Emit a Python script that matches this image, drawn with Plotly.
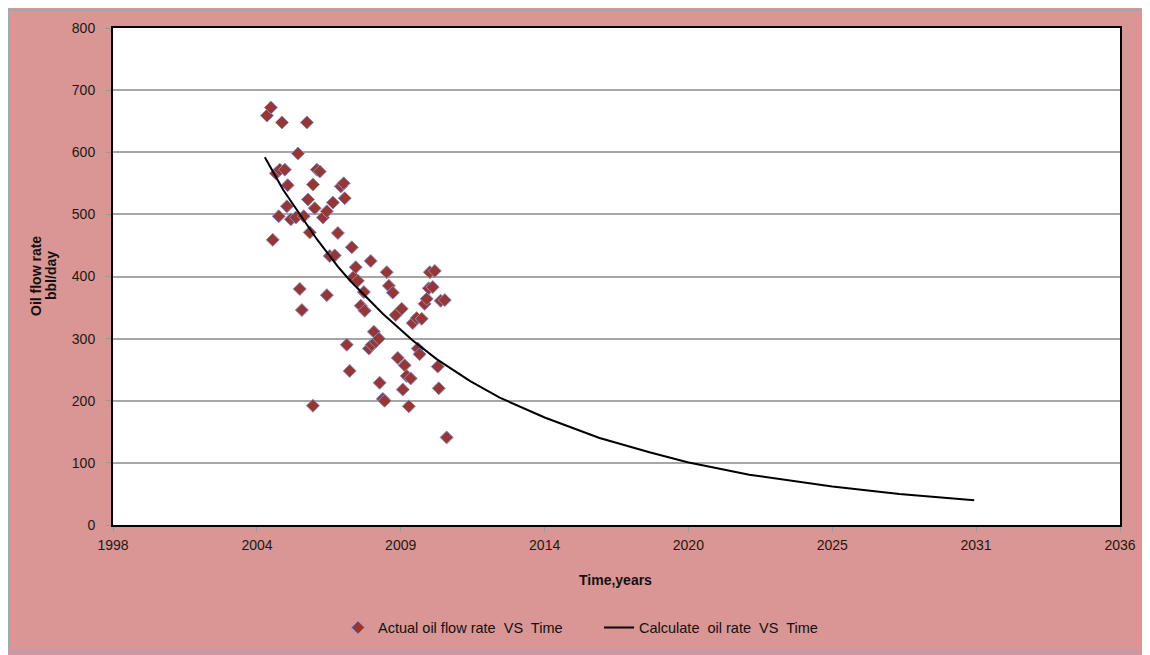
import plotly.graph_objects as go

# ---- Data ----
actual_time = [2004.42, 2004.57, 2004.99, 2005.94, 2005.60, 2004.76, 2004.91, 2005.10,
               2005.21, 2004.87, 2004.64, 2005.18, 2005.33, 2005.52, 2005.67, 2005.75,
               2005.82, 2005.98, 2006.17, 2006.32, 2006.43, 2006.05, 2006.24, 2006.17,
               2006.55, 2006.70, 2006.70, 2006.81, 2006.93, 2007.00, 2007.12, 2007.23,
               2007.34, 2007.38, 2007.46, 2007.57, 2007.65, 2007.72, 2007.80, 2007.88,
               2007.99, 2008.11, 2008.14, 2008.30, 2008.37, 2008.41, 2008.49, 2008.56,
               2008.68, 2008.71, 2008.83, 2008.90, 2008.98, 2009.06, 2009.21, 2009.32,
               2009.40, 2009.55, 2009.59, 2009.66, 2009.74, 2009.82, 2009.89, 2009.97,
               2010.12, 2010.16, 2010.23, 2010.31, 2010.42, 2010.50, 2010.58, 2010.62,
               2010.73, 2010.81, 2010.92, 2010.96, 2011.03, 2011.19, 2011.26]
actual_rate = [659, 672, 648, 648, 598, 566, 572, 572,
               547, 497, 459, 513, 492, 495, 380, 346,
               497, 524, 548, 572, 569, 471, 510, 192,
               495, 505, 370, 433, 519, 434, 470, 545,
               550, 526, 290, 248, 447, 399, 415, 393,
               353, 375, 345, 284, 425, 290, 311, 295,
               300, 229, 203, 200, 407, 385, 374, 338,
               269, 348, 218, 257, 240, 191, 236, 325,
               333, 284, 275, 332, 356, 364, 381, 407,
               383, 409, 255, 220, 361, 362, 141]

calc_time = [2004.34, 2005.03, 2006.32, 2007.12, 2007.57, 2008.83, 2009.97, 2010.88,
             2012.14, 2013.28, 2014.99, 2017.08, 2018.98, 2020.43, 2022.78, 2024.69,
             2025.94, 2028.49, 2031.34]
calc_rate = [592, 540, 460, 416, 394, 340, 297, 267,
             232, 205, 173, 140, 117, 101, 81, 69,
             62, 50, 40]

x_tick_vals = [1998.56, 2004.04, 2009.51, 2014.99, 2020.46, 2025.94, 2031.41, 2036.89]
x_tick_text = ["1998", "2004", "2009", "2014", "2020", "2025", "2031", "2036"]
y_tick_vals = [0, 100, 200, 300, 400, 500, 600, 700, 800]

PINK = "#D99694"
FONT = "Liberation Sans"
NB = "\u00a0"

fig = go.Figure()
fig.add_trace(go.Scatter(
    x=actual_time, y=actual_rate, mode="markers",
    name=f"Actual oil flow rate{NB} VS{NB} Time",
    marker=dict(symbol="diamond", size=10, color="#953735",
                line=dict(color="#8C8CC8", width=1)),
))
fig.add_trace(go.Scatter(
    x=calc_time, y=calc_rate, mode="lines",
    name=f"Calculate{NB} oil rate{NB} VS{NB} Time",
    line=dict(color="black", width=2),
))

# page body has an 8px margin; screen coordinates below refer to the 1150x655 window
OFF = 8
W, H = 1150 - OFF, 655 - OFF
PL, PR, PT, PB = 113, 1120, 26, 525        # plot area in screen pixels
L, T = PL - OFF, PT - OFF
R, B = 1150 - PR, 655 - PB
pw, ph = PR - PL, PB - PT

def px(x):
    return (x - PL) / pw

def py(y):
    return (PB - y) / ph

fig.update_layout(
    width=W, height=H,
    margin=dict(l=L, r=R, t=T, b=B),
    paper_bgcolor=PINK,
    plot_bgcolor="white",
    font=dict(family=FONT, size=14, color="#222222"),
    showlegend=True,
    legend=dict(orientation="h", x=px(338), y=py(628), xanchor="left", yanchor="middle",
                bgcolor="rgba(0,0,0,0)", font=dict(size=14.5, color="#111111"),
                itemwidth=30, entrywidth=216),
    shapes=[
        dict(type="rect", xref="paper", yref="paper",
             x0=px(OFF), x1=px(1145), y0=py(652), y1=py(OFF),
             fillcolor="rgba(0,0,0,0)", line=dict(color="#7FB5C8", width=1.5), layer="below"),
    ],
    annotations=[
        dict(text="<b>Time,years</b>", xref="paper", yref="paper",
             x=px(615), y=py(580), xanchor="center", yanchor="middle", showarrow=False,
             font=dict(size=14, color="#111111")),
        dict(text="<b>Oil flow rate</b>", xref="paper", yref="paper",
             x=px(36), y=py(275), xanchor="center", yanchor="middle", textangle=-90,
             showarrow=False, font=dict(size=14, color="#111111")),
        dict(text="<b>bbl/day</b>", xref="paper", yref="paper",
             x=px(51), y=py(275), xanchor="center", yanchor="middle", textangle=-90,
             showarrow=False, font=dict(size=14, color="#111111")),
    ],
)

fig.update_xaxes(
    range=[x_tick_vals[0], x_tick_vals[-1]],
    tickmode="array", tickvals=x_tick_vals, ticktext=x_tick_text,
    showgrid=False, zeroline=False,
    showline=True, linecolor="black", linewidth=2, mirror=True,
    ticks="outside", ticklen=5, tickcolor="#999999", ticklabelstandoff=1,
    tickfont=dict(size=14, color="#1a1a1a"),
)
fig.update_yaxes(
    range=[0, 800],
    tickmode="array", tickvals=y_tick_vals,
    showgrid=True, gridcolor="#A6A6A6", gridwidth=1.5, zeroline=False,
    showline=True, linecolor="black", linewidth=2, mirror=True,
    ticks="outside", ticklen=5, tickcolor="#999999", ticklabelstandoff=8,
    tickfont=dict(size=14, color="#1a1a1a"),
)

fig.write_html("out.html")
